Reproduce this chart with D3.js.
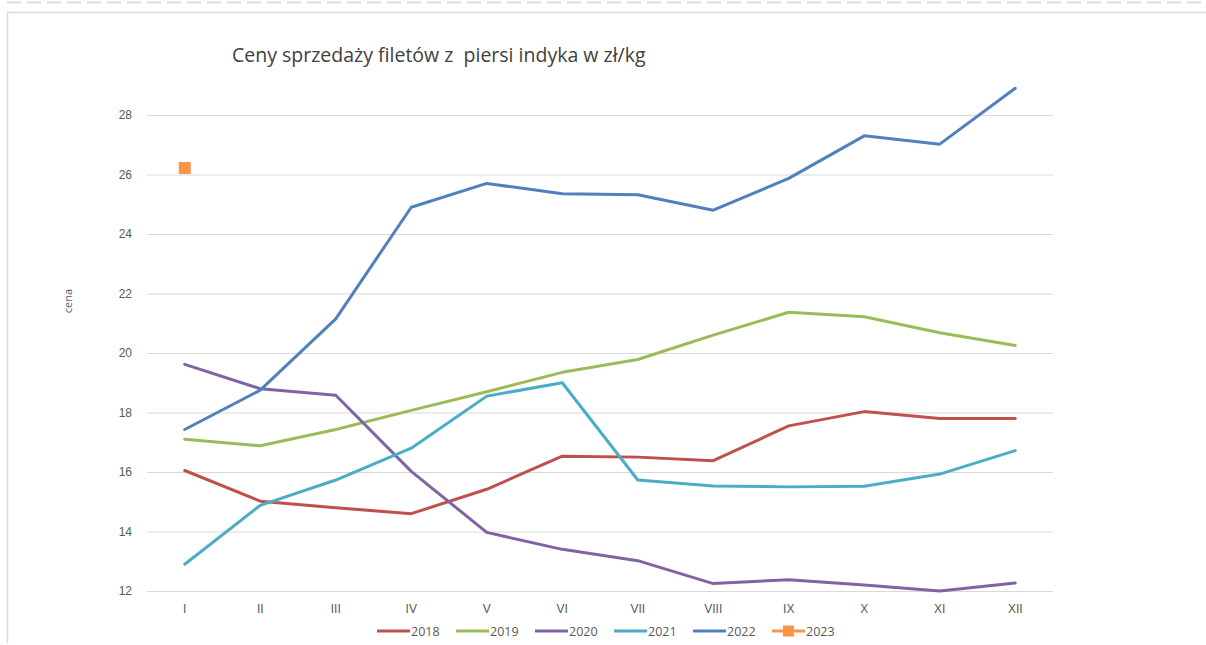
<!DOCTYPE html>
<html>
<head>
<meta charset="utf-8">
<script src="https://cdn.jsdelivr.net/npm/d3@7"></script>
<style>
  body { margin: 0; background: #fff; }
  svg { display: block; font-family: "Open Sans", "Noto Sans", sans-serif; }
</style>
</head>
<body>
<svg id="chart"></svg>
<script>
// months (roman numerals) on the x axis
const months = ["I", "II", "III", "IV", "V", "VI", "VII", "VIII", "IX", "X", "XI", "XII"]
const yTicks = [12, 14, 16, 18, 20, 22, 24, 26, 28]

const years = ["2018", "2019", "2020", "2021", "2022", "2023"]
const colors = ["#c0504d", "#9bbb59", "#8064a2", "#4bacc6", "#4f81bd", "#f79646"]

const v2018 = [16.05, 15.02, 14.8, 14.6, 15.42, 16.53, 16.5, 16.38, 17.55, 18.03, 17.8, 17.8]
const v2019 = [17.1, 16.88, 17.43, 18.07, 18.7, 19.35, 19.78, 20.6, 21.37, 21.22, 20.68, 20.25]
const v2020 = [19.62, 18.8, 18.58, 16.02, 13.97, 13.4, 13.02, 12.25, 12.38, 12.2, 12.0, 12.27]
const v2021 = [12.9, 14.88, 15.73, 16.8, 18.55, 19.0, 15.73, 15.53, 15.5, 15.52, 15.93, 16.72]
const v2022 = [17.43, 18.75, 21.15, 24.9, 25.7, 25.35, 25.32, 24.8, 25.87, 27.3, 27.02, 28.9]
const v2023 = [26.22]

const seriesValues = [v2018, v2019, v2020, v2021, v2022, v2023]

const svgWidth = 1206, svgHeight = 645
const margin = { top: 115, right: 153, bottom: 54, left: 147 }
const width = svgWidth - margin.left - margin.right
const height = svgHeight - margin.top - margin.bottom

const svg = d3.select("#chart")
  .attr("width", svgWidth)
  .attr("height", svgHeight)

// page decorations: dashed rule and the chart frame
svg.append("line")
  .attr("x1", 7).attr("x2", svgWidth).attr("y1", 2.5).attr("y2", 2.5)
  .attr("stroke", "#dcdcdc").attr("stroke-width", 2)
  .attr("stroke-dasharray", "14,6")
svg.append("path")
  .attr("d", `M7.5,${svgHeight - 2} V12.5 H${svgWidth}`)
  .attr("fill", "none")
  .attr("stroke", "#d9d9d9").attr("stroke-width", 1.5)

svg.append("text")
  .attr("x", 232).attr("y", 62)
  .attr("fill", "#404040")
  .attr("font-size", 19.5)
  .attr("xml:space", "preserve")
  .style("white-space", "pre")
  .text("Ceny sprzedaży filetów z  piersi indyka w zł/kg")

const g = svg.append("g")
  .attr("transform", `translate(${margin.left},${margin.top})`)

const xs = d3.scaleBand().domain(months).range([0, width])
const ys = d3.scaleLinear().domain([12, 28]).range([height, 0])

// gridlines + y axis
g.append("g")
  .call(d3.axisLeft(ys).tickValues(yTicks).tickSize(0).tickPadding(15))
  .call(a => a.select(".domain").remove())
  .call(a => a.selectAll(".tick line").clone()
    .attr("x2", width)
    .attr("stroke", "#d9d9d9")
    .attr("stroke-width", 1.2))
  .call(a => a.selectAll(".tick text")
    .attr("fill", "#595959")
    .attr("font-size", 12))

// x axis
g.append("g")
  .attr("transform", `translate(0,${height})`)
  .call(d3.axisBottom(xs).tickSize(0).tickPadding(13))
  .call(a => a.select(".domain").remove())
  .call(a => a.selectAll(".tick text")
    .attr("fill", "#595959")
    .attr("font-size", 12))

svg.append("text")
  .attr("transform", "translate(72,301) rotate(-90)")
  .attr("text-anchor", "middle")
  .attr("fill", "#595959")
  .attr("font-size", 11)
  .text("cena")

const line = d3.line()
  .x((d, i) => xs(months[i]) + xs.bandwidth() / 2)
  .y(d => ys(d))

seriesValues.forEach((vals, k) => {
  if (vals.length > 1) {
    g.append("path")
      .datum(vals)
      .attr("fill", "none")
      .attr("stroke", colors[k])
      .attr("stroke-width", 3)
      .attr("stroke-linejoin", "round")
      .attr("stroke-linecap", "round")
      .attr("d", line)
  } else {
    g.selectAll(null)
      .data(vals)
      .join("rect")
      .attr("x", (d, i) => xs(months[i]) + xs.bandwidth() / 2 - 6)
      .attr("y", d => ys(d) - 6)
      .attr("width", 12).attr("height", 12)
      .attr("fill", colors[k])
  }
})

// legend
const legendX = [377, 456, 535, 614, 693, 772]
const legend = svg.append("g").attr("transform", "translate(0,631)")
years.forEach((yr, k) => {
  const item = legend.append("g").attr("transform", `translate(${legendX[k]},0)`)
  item.append("line")
    .attr("x1", 0).attr("x2", 33)
    .attr("stroke", colors[k]).attr("stroke-width", 3)
  if (k === 5) {
    item.append("rect")
      .attr("x", 11).attr("y", -5.5).attr("width", 11).attr("height", 11)
      .attr("fill", colors[k])
  }
  item.append("text")
    .attr("x", 34).attr("y", 4.5)
    .attr("fill", "#595959")
    .attr("font-size", 12.5)
    .text(yr)
})
</script>
</body>
</html>
